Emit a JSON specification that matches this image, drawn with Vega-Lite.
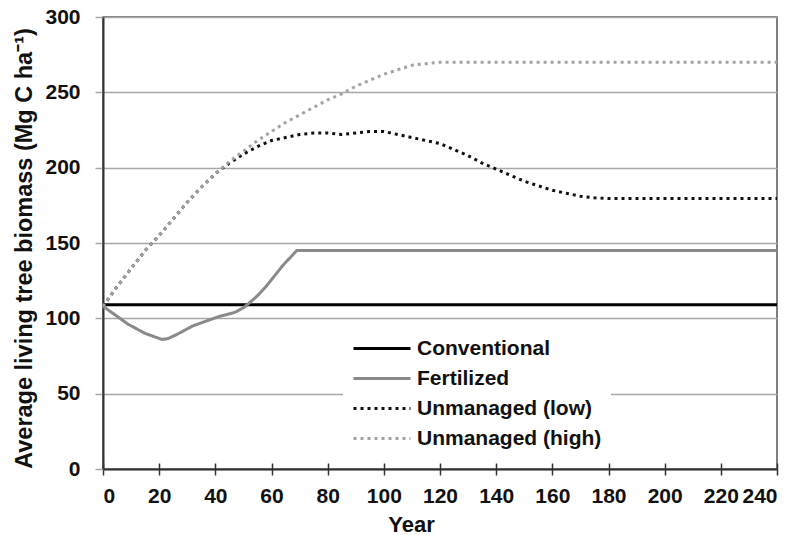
{
  "$schema": "https://vega.github.io/schema/vega-lite/v6.json",
  "width": 674,
  "height": 452,
  "autosize": "none",
  "padding": {"left": 103, "top": 17, "right": 18, "bottom": 66},
  "background": "white",
  "config": {
    "font": "Liberation Sans",
    "view": {"stroke": "#555555", "strokeWidth": 1.5},
    "axis": {
      "labelFont": "Liberation Sans",
      "labelFontSize": 21,
      "labelFontWeight": "bold",
      "labelColor": "#111111",
      "titleFont": "Liberation Sans",
      "titleFontSize": 22,
      "titleFontWeight": "bold",
      "titleColor": "#111111",
      "domainColor": "#333333",
      "domainWidth": 2
    }
  },
  "data": {
    "values": [
      {"series": "Conventional", "year": 0, "biomass": 109},
      {"series": "Conventional", "year": 240, "biomass": 109},

      {"series": "Fertilized", "year": 0, "biomass": 108},
      {"series": "Fertilized", "year": 3, "biomass": 104},
      {"series": "Fertilized", "year": 6, "biomass": 100},
      {"series": "Fertilized", "year": 9, "biomass": 96},
      {"series": "Fertilized", "year": 12, "biomass": 93},
      {"series": "Fertilized", "year": 15, "biomass": 90},
      {"series": "Fertilized", "year": 18, "biomass": 88},
      {"series": "Fertilized", "year": 21, "biomass": 86},
      {"series": "Fertilized", "year": 23, "biomass": 86.5},
      {"series": "Fertilized", "year": 26, "biomass": 89},
      {"series": "Fertilized", "year": 29, "biomass": 92},
      {"series": "Fertilized", "year": 32, "biomass": 95},
      {"series": "Fertilized", "year": 35, "biomass": 97},
      {"series": "Fertilized", "year": 38, "biomass": 99},
      {"series": "Fertilized", "year": 41, "biomass": 101},
      {"series": "Fertilized", "year": 44, "biomass": 102.5},
      {"series": "Fertilized", "year": 47, "biomass": 104},
      {"series": "Fertilized", "year": 50, "biomass": 107},
      {"series": "Fertilized", "year": 52, "biomass": 110},
      {"series": "Fertilized", "year": 55, "biomass": 115},
      {"series": "Fertilized", "year": 58, "biomass": 121},
      {"series": "Fertilized", "year": 61, "biomass": 128},
      {"series": "Fertilized", "year": 64, "biomass": 135},
      {"series": "Fertilized", "year": 67, "biomass": 141},
      {"series": "Fertilized", "year": 69, "biomass": 145},
      {"series": "Fertilized", "year": 240, "biomass": 145},

      {"series": "Unmanaged (low)", "year": 0, "biomass": 108},
      {"series": "Unmanaged (low)", "year": 5, "biomass": 121},
      {"series": "Unmanaged (low)", "year": 10, "biomass": 133},
      {"series": "Unmanaged (low)", "year": 15, "biomass": 145},
      {"series": "Unmanaged (low)", "year": 20, "biomass": 155},
      {"series": "Unmanaged (low)", "year": 25, "biomass": 166},
      {"series": "Unmanaged (low)", "year": 30, "biomass": 177},
      {"series": "Unmanaged (low)", "year": 35, "biomass": 187},
      {"series": "Unmanaged (low)", "year": 40, "biomass": 196},
      {"series": "Unmanaged (low)", "year": 45, "biomass": 203},
      {"series": "Unmanaged (low)", "year": 50, "biomass": 209},
      {"series": "Unmanaged (low)", "year": 55, "biomass": 214},
      {"series": "Unmanaged (low)", "year": 60, "biomass": 218},
      {"series": "Unmanaged (low)", "year": 65, "biomass": 220},
      {"series": "Unmanaged (low)", "year": 70, "biomass": 222},
      {"series": "Unmanaged (low)", "year": 75, "biomass": 223},
      {"series": "Unmanaged (low)", "year": 80, "biomass": 223},
      {"series": "Unmanaged (low)", "year": 85, "biomass": 222},
      {"series": "Unmanaged (low)", "year": 90, "biomass": 223},
      {"series": "Unmanaged (low)", "year": 95, "biomass": 224},
      {"series": "Unmanaged (low)", "year": 100, "biomass": 224},
      {"series": "Unmanaged (low)", "year": 105, "biomass": 222},
      {"series": "Unmanaged (low)", "year": 110, "biomass": 220},
      {"series": "Unmanaged (low)", "year": 115, "biomass": 218},
      {"series": "Unmanaged (low)", "year": 120, "biomass": 216},
      {"series": "Unmanaged (low)", "year": 125, "biomass": 212},
      {"series": "Unmanaged (low)", "year": 130, "biomass": 208},
      {"series": "Unmanaged (low)", "year": 135, "biomass": 203},
      {"series": "Unmanaged (low)", "year": 140, "biomass": 199},
      {"series": "Unmanaged (low)", "year": 145, "biomass": 195},
      {"series": "Unmanaged (low)", "year": 150, "biomass": 191},
      {"series": "Unmanaged (low)", "year": 155, "biomass": 188},
      {"series": "Unmanaged (low)", "year": 160, "biomass": 185},
      {"series": "Unmanaged (low)", "year": 165, "biomass": 183},
      {"series": "Unmanaged (low)", "year": 170, "biomass": 181},
      {"series": "Unmanaged (low)", "year": 175, "biomass": 180},
      {"series": "Unmanaged (low)", "year": 180, "biomass": 179.5},
      {"series": "Unmanaged (low)", "year": 240, "biomass": 179.5},

      {"series": "Unmanaged (high)", "year": 0, "biomass": 108},
      {"series": "Unmanaged (high)", "year": 5, "biomass": 121},
      {"series": "Unmanaged (high)", "year": 10, "biomass": 133},
      {"series": "Unmanaged (high)", "year": 15, "biomass": 145},
      {"series": "Unmanaged (high)", "year": 20, "biomass": 155},
      {"series": "Unmanaged (high)", "year": 25, "biomass": 166},
      {"series": "Unmanaged (high)", "year": 30, "biomass": 177},
      {"series": "Unmanaged (high)", "year": 35, "biomass": 187},
      {"series": "Unmanaged (high)", "year": 40, "biomass": 196},
      {"series": "Unmanaged (high)", "year": 45, "biomass": 204},
      {"series": "Unmanaged (high)", "year": 50, "biomass": 211},
      {"series": "Unmanaged (high)", "year": 55, "biomass": 218},
      {"series": "Unmanaged (high)", "year": 60, "biomass": 224},
      {"series": "Unmanaged (high)", "year": 65, "biomass": 230},
      {"series": "Unmanaged (high)", "year": 70, "biomass": 235},
      {"series": "Unmanaged (high)", "year": 75, "biomass": 240},
      {"series": "Unmanaged (high)", "year": 80, "biomass": 245},
      {"series": "Unmanaged (high)", "year": 85, "biomass": 249},
      {"series": "Unmanaged (high)", "year": 90, "biomass": 254},
      {"series": "Unmanaged (high)", "year": 95, "biomass": 258},
      {"series": "Unmanaged (high)", "year": 100, "biomass": 262},
      {"series": "Unmanaged (high)", "year": 105, "biomass": 265},
      {"series": "Unmanaged (high)", "year": 110, "biomass": 268},
      {"series": "Unmanaged (high)", "year": 115, "biomass": 269},
      {"series": "Unmanaged (high)", "year": 120, "biomass": 270},
      {"series": "Unmanaged (high)", "year": 240, "biomass": 270}
    ]
  },
  "layer": [
    {
      "mark": {"type": "line", "strokeWidth": 3, "strokeCap": "butt"},
      "encoding": {
        "x": {
          "field": "year",
          "type": "quantitative",
          "scale": {"domain": [0, 240], "nice": false, "zero": false},
          "axis": {
            "orient": "bottom",
            "values": [0, 20, 40, 60, 80, 100, 120, 140, 160, 180, 200, 220, 240],
            "grid": false,
            "tickSize": 6,
            "tickWidth": 1.5,
            "tickColor": "#333333",
            "labelPadding": 10,
            "title": "Year",
            "titleX": 308,
            "titleY": 62,
            "titleBaseline": "alphabetic",
            "titleAnchor": "middle"
          }
        },
        "y": {
          "field": "biomass",
          "type": "quantitative",
          "scale": {"domain": [0, 300], "nice": false},
          "axis": {
            "values": [0, 50, 100, 150, 200, 250, 300],
            "grid": true,
            "gridColor": "#a8a8a8",
            "gridWidth": 1.5,
            "tickColor": "#a8a8a8",
            "tickWidth": 1.5,
            "tickSize": 8,
            "labelPadding": 15,
            "title": "Average living tree biomass (Mg C ha⁻¹)",
            "titleFontSize": 23.5,
            "titleX": -71.5,
            "titleY": 231,
            "titleAngle": -90,
            "titleBaseline": "alphabetic",
            "titleAnchor": "middle"
          }
        },
        "color": {
          "field": "series",
          "type": "nominal",
          "scale": {
            "domain": ["Conventional", "Fertilized", "Unmanaged (low)", "Unmanaged (high)"],
            "range": ["#000000", "#8a8a8a", "#111111", "#a3a3a3"]
          },
          "legend": {
            "title": null,
            "orient": "none",
            "legendX": 240,
            "legendY": 311,
            "fillColor": "white",
            "padding": 9,
            "symbolType": "M-1,0H4.7",
            "symbolSize": 400,
            "symbolStrokeWidth": 3,
            "labelOffset": 42,
            "labelLimit": 400,
            "labelFont": "Liberation Sans",
            "labelFontSize": 21,
            "labelFontWeight": "bold",
            "labelColor": "#111111",
            "rowPadding": 8
          }
        },
        "strokeDash": {
          "field": "series",
          "type": "nominal",
          "scale": {
            "domain": ["Conventional", "Fertilized", "Unmanaged (low)", "Unmanaged (high)"],
            "range": [[1, 0], [1, 0], [3, 4], [3, 4]]
          },
          "legend": {
            "title": null,
            "orient": "none",
            "legendX": 240,
            "legendY": 311,
            "fillColor": "white",
            "padding": 9,
            "symbolType": "M-1,0H4.7",
            "symbolSize": 400,
            "symbolStrokeWidth": 3,
            "labelOffset": 42,
            "labelLimit": 400,
            "labelFont": "Liberation Sans",
            "labelFontSize": 21,
            "labelFontWeight": "bold",
            "labelColor": "#111111",
            "rowPadding": 8
          }
        }
      }
    },
    {
      "mark": {"type": "point", "opacity": 0},
      "encoding": {
        "x": {
          "field": "year",
          "type": "quantitative",
          "axis": {
            "orient": "bottom",
            "values": [0, 20, 40, 60, 80, 100, 120, 140, 160, 180, 200, 220, 240],
            "grid": false,
            "domain": false,
            "labels": false,
            "tickSize": -6,
            "tickWidth": 1.5,
            "tickColor": "#333333",
            "title": null
          }
        }
      }
    }
  ],
  "resolve": {"axis": {"x": "independent"}}
}
